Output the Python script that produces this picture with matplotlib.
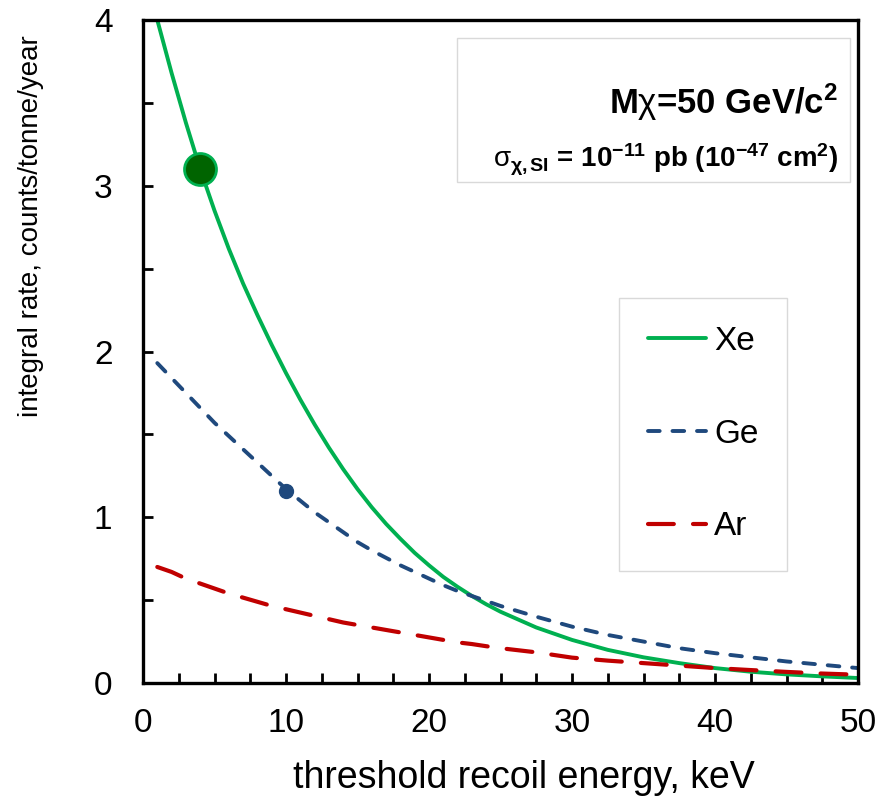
import matplotlib

matplotlib.use("Agg")
import matplotlib.pyplot as plt
from matplotlib.patches import Rectangle

plt.rcParams["font.family"] = ["Liberation Sans", "DejaVu Sans"]
plt.rcParams["mathtext.fontset"] = "custom"
plt.rcParams["mathtext.rm"] = "Liberation Sans"
plt.rcParams["mathtext.it"] = "Liberation Sans"
plt.rcParams["mathtext.bf"] = "Liberation Sans:bold"

# threshold energy (keV) and integral rates (counts/tonne/year)
energy = [1, 2, 3, 4, 5, 6, 7, 8, 9, 10, 11, 12, 13, 14, 15, 16, 17, 18, 19, 20,
          21, 22, 23, 24, 25, 27.5, 30, 32.5, 35, 37.5, 40, 42.5, 45, 47.5, 50]
rate_xe = [4.00, 3.68, 3.38, 3.10, 2.85, 2.62, 2.41, 2.22, 2.04, 1.87, 1.71,
           1.56, 1.42, 1.29, 1.17, 1.06, 0.96, 0.87, 0.785, 0.71, 0.64, 0.58,
           0.525, 0.475, 0.43, 0.335, 0.26, 0.20, 0.155, 0.12, 0.09, 0.068,
           0.052, 0.04, 0.03]
rate_ge = [1.93, 1.84, 1.75, 1.66, 1.57, 1.49, 1.41, 1.33, 1.25, 1.17, 1.10,
           1.03, 0.97, 0.91, 0.85, 0.80, 0.755, 0.71, 0.67, 0.63, 0.59, 0.555,
           0.525, 0.495, 0.465, 0.40, 0.34, 0.29, 0.25, 0.21, 0.18, 0.155,
           0.13, 0.11, 0.09]
rate_ar = [0.70, 0.67, 0.63, 0.60, 0.57, 0.54, 0.515, 0.49, 0.465, 0.445,
           0.425, 0.405, 0.385, 0.365, 0.35, 0.335, 0.32, 0.305, 0.29, 0.275,
           0.26, 0.245, 0.235, 0.222, 0.21, 0.185, 0.153, 0.135, 0.12,
           0.105, 0.09, 0.078, 0.067, 0.057, 0.05]

# highlighted operating points
xe_point = (4, 3.1)
ge_point = (10, 1.16)

GREEN = "#00B050"
DKGREEN = "#006400"
BLUE = "#1F497D"
RED = "#C00000"

W, H = 877, 802
fig = plt.figure(figsize=(W / 100, H / 100), dpi=100)


def fx(px):
    return px / W


def fy(py):
    return 1 - py / H


ax = fig.add_axes([fx(143), fy(683), fx(858) - fx(143), fy(20) - fy(683)])

ax.plot(energy, rate_xe, color=GREEN, lw=2.8, label="Xe", solid_capstyle="round")
ax.plot(energy, rate_ge, color=BLUE, lw=2.8, dashes=(3.0, 3.3),
        dash_capstyle="round", label="Ge")
ax.plot(energy, rate_ar, color=RED, lw=3.0, dashes=(6.2, 4.6),
        dash_capstyle="round", label="Ar")
ax.plot(*xe_point, "o", ms=23, mfc=DKGREEN, mec=GREEN, mew=2, zorder=5)
ax.plot(*ge_point, "o", ms=10, mfc=BLUE, mec=BLUE, zorder=5)

ax.set_xlim(0, 50)
ax.set_ylim(0, 4)
ax.set_xticks(range(0, 51, 10))
ax.set_xticks([x * 2.5 for x in range(21)], minor=True)
ax.set_yticks(range(0, 5))
ax.set_yticks([y * 0.5 for y in range(9)], minor=True)
ax.tick_params(which="both", direction="in", length=7, width=2, color="black")
ax.tick_params(axis="x", which="major", labelsize=24, pad=18)
ax.tick_params(axis="y", which="major", labelsize=24, pad=22)
for s in ax.spines.values():
    s.set_linewidth(2.4)

fig.text(fx(524), fy(778), "threshold recoil energy, keV", fontsize=27,
         ha="center", va="center")
fig.text(fx(31), fy(226), "integral rate, counts/tonne/year", fontsize=20,
         rotation=90, ha="center", va="center")

leg = ax.legend(loc="upper left", bbox_to_anchor=(0.666, 0.581), fontsize=24,
                frameon=True, fancybox=False, framealpha=1, edgecolor="#D9D9D9",
                handlelength=1.75, handletextpad=0.25, labelspacing=1.85,
                borderpad=0.85, borderaxespad=0)
leg.get_frame().set_linewidth(1.0)

fig.patches.append(Rectangle((fx(457), fy(182)), fx(850) - fx(457), fy(38) - fy(182),
                             transform=fig.transFigure, fill=False,
                             edgecolor="#D9D9D9", lw=1.0))
fig.text(fx(838), fy(102), r"M$\chi$=50 GeV/c$^{\mathbf{2}}$", fontsize=25,
         fontweight="bold", ha="right", va="center")
fig.text(fx(838), fy(160),
         r"$\sigma_{\mathbf{\chi,SI}}$ = 10$^{\mathbf{-11}}$ pb (10$^{\mathbf{-47}}$ cm$^{\mathbf{2}}$)",
         fontsize=20, fontweight="bold", ha="right", va="center")

fig.savefig("out.png", dpi=100)
